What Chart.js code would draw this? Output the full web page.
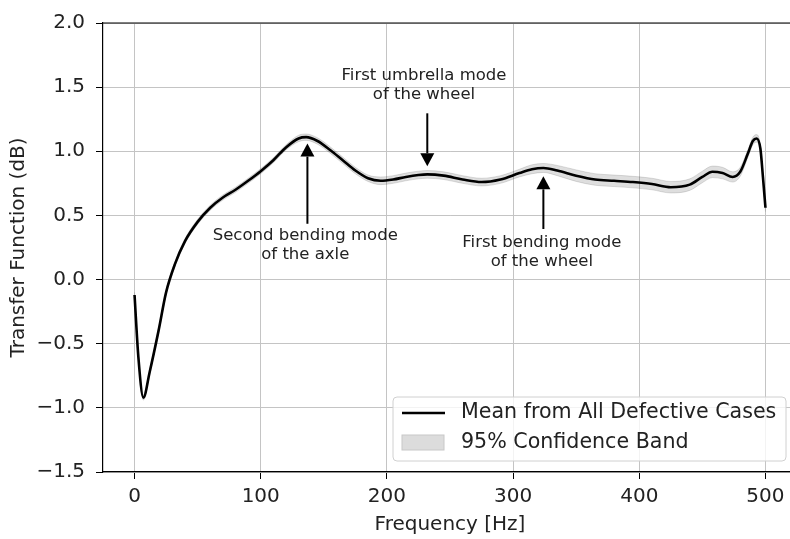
<!DOCTYPE html>
<html>
<head>
<meta charset="utf-8">
<script src="https://cdn.jsdelivr.net/npm/chart.js@4.4.1/dist/chart.umd.min.js"></script>
<style>
  html, body { margin: 0; padding: 0; background: #fff; overflow: hidden; }
  canvas { display: block; }
</style>
</head>
<body>
<canvas id="tfChart" width="800" height="539"></canvas>
<script>
// frequency points (Hz)
const freq = [0, 3, 7, 12, 19, 25, 32, 40, 50, 60, 70, 80, 90, 100, 110, 120, 130, 136, 145, 155,
  165, 175, 185, 195, 205, 215, 225, 232, 245, 260, 275, 290, 305, 315, 324, 335, 350, 365, 380,
  395, 410, 425, 440, 450, 458, 466, 474, 480, 486, 490, 493, 496, 498, 500];

// mean transfer function (dB)
const meanTF = [-0.12, -0.60, -0.92, -0.72, -0.40, -0.10, 0.12, 0.30, 0.45, 0.56, 0.64, 0.70, 0.77,
  0.845, 0.93, 1.03, 1.10, 1.11, 1.08, 1.01, 0.93, 0.85, 0.79, 0.77, 0.78, 0.80, 0.815, 0.82, 0.81,
  0.78, 0.76, 0.78, 0.83, 0.86, 0.87, 0.85, 0.81, 0.78, 0.77, 0.76, 0.745, 0.72, 0.74, 0.80, 0.84,
  0.83, 0.80, 0.84, 0.98, 1.08, 1.10, 1.02, 0.80, 0.56];

// 95% confidence band
const upperTF = [-0.10, -0.58, -0.90, -0.70, -0.38, -0.08, 0.14, 0.32, 0.47, 0.58, 0.66, 0.72, 0.79,
  0.865, 0.95, 1.05, 1.125, 1.135, 1.105, 1.035, 0.955, 0.875, 0.815, 0.80, 0.81, 0.83, 0.845, 0.85,
  0.84, 0.81, 0.79, 0.81, 0.86, 0.895, 0.905, 0.89, 0.855, 0.825, 0.815, 0.805, 0.79, 0.765, 0.785,
  0.845, 0.885, 0.875, 0.84, 0.875, 1.01, 1.11, 1.13, 1.05, 0.83, 0.59];
const lowerTF = [-0.14, -0.62, -0.94, -0.74, -0.42, -0.12, 0.10, 0.28, 0.43, 0.54, 0.62, 0.68, 0.75,
  0.825, 0.91, 1.01, 1.075, 1.085, 1.055, 0.985, 0.905, 0.825, 0.765, 0.74, 0.75, 0.77, 0.785, 0.79,
  0.78, 0.75, 0.73, 0.75, 0.80, 0.825, 0.835, 0.81, 0.765, 0.735, 0.725, 0.715, 0.70, 0.675, 0.695,
  0.755, 0.795, 0.785, 0.76, 0.805, 0.95, 1.05, 1.07, 0.99, 0.77, 0.53];

const xTicks = [0, 100, 200, 300, 400, 500];
const yTicks = [-1.5, -1.0, -0.5, 0.0, 0.5, 1.0, 1.5, 2.0];

// annotations: arrow x, arrow tip / tail y, text centre
const annoText = [['Second bending mode', 'of the axle'], ['First umbrella mode', 'of the wheel'], ['First bending mode', 'of the wheel']];
const annoX = [137, 232, 324];
const annoTip = [1.06, 0.883, 0.805];
const annoTail = [0.435, 1.296, 0.394];
const annoTextX = [135.3, 229.4, 322.8];
const annoTextY = [0.34, 1.589, 0.288];

const FONT = "'DejaVu Sans', sans-serif";

const toXY = (xs, ys) => xs.map((x, i) => ({ x: x, y: ys[i] }));

// top spine, annotations and the legend box
const extras = {
  id: 'extras',
  afterDraw(chart) {
    const ctx = chart.ctx;
    const a = chart.chartArea;
    const xs = chart.scales.x, ys = chart.scales.y;
    ctx.save();
    ctx.strokeStyle = '#000';
    ctx.lineWidth = 1.2;
    ctx.beginPath();
    ctx.moveTo(a.left, a.top);
    ctx.lineTo(a.right, a.top);
    ctx.lineTo(a.right, a.bottom);
    ctx.stroke();

    // annotations
    ctx.font = '16.5px ' + FONT;
    ctx.textAlign = 'center';
    ctx.textBaseline = 'middle';
    annoText.forEach((lines, i) => {
      const px = xs.getPixelForValue(annoX[i]);
      const tip = ys.getPixelForValue(annoTip[i]);
      const tail = ys.getPixelForValue(annoTail[i]);
      const dir = tip < tail ? -1 : 1;
      const head = 13;
      ctx.strokeStyle = '#000';
      ctx.lineWidth = 2;
      ctx.beginPath();
      ctx.moveTo(px, tail);
      ctx.lineTo(px, tip - dir * head);
      ctx.stroke();
      ctx.fillStyle = '#000';
      ctx.beginPath();
      ctx.moveTo(px, tip);
      ctx.lineTo(px - 7, tip - dir * head);
      ctx.lineTo(px + 7, tip - dir * head);
      ctx.closePath();
      ctx.fill();
      ctx.fillStyle = '#222';
      const tx = xs.getPixelForValue(annoTextX[i]);
      const ty = ys.getPixelForValue(annoTextY[i]);
      lines.forEach((s, j) => ctx.fillText(s, tx, ty + j * 19));
    });

    // legend
    const bw = 393, bh = 64;
    const bx = a.right - 11 - bw, by = a.bottom - 11 - bh;
    ctx.fillStyle = 'rgba(255,255,255,0.8)';
    ctx.strokeStyle = '#d0d0d0';
    ctx.lineWidth = 1;
    ctx.beginPath();
    ctx.roundRect(bx, by, bw, bh, 4);
    ctx.fill();
    ctx.stroke();
    ctx.strokeStyle = '#000';
    ctx.lineWidth = 2.5;
    ctx.beginPath();
    ctx.moveTo(bx + 9, by + 16);
    ctx.lineTo(bx + 52, by + 16);
    ctx.stroke();
    ctx.fillStyle = '#dcdcdc';
    ctx.strokeStyle = '#c8c8c8';
    ctx.lineWidth = 1;
    ctx.fillRect(bx + 9, by + 38, 42, 15);
    ctx.strokeRect(bx + 9, by + 38, 42, 15);
    ctx.fillStyle = '#222';
    ctx.font = '20.6px ' + FONT;
    ctx.textAlign = 'left';
    ctx.fillText('Mean from All Defective Cases', bx + 68, by + 16);
    ctx.fillText('95% Confidence Band', bx + 68, by + 46);
    ctx.restore();
  }
};

new Chart(document.getElementById('tfChart'), {
  type: 'line',
  data: {
    datasets: [
      {
        label: 'upper',
        data: toXY(freq, upperTF),
        borderColor: 'rgba(0,0,0,0.12)',
        borderWidth: 1,
        pointRadius: 0,
        cubicInterpolationMode: 'monotone',
        fill: false
      },
      {
        label: '95% Confidence Band',
        data: toXY(freq, lowerTF),
        borderColor: 'rgba(0,0,0,0.12)',
        backgroundColor: 'rgba(0,0,0,0.13)',
        borderWidth: 1,
        pointRadius: 0,
        cubicInterpolationMode: 'monotone',
        fill: '-1'
      },
      {
        label: 'Mean from All Defective Cases',
        data: toXY(freq, meanTF),
        borderColor: '#000',
        borderWidth: 2.6,
        pointRadius: 0,
        cubicInterpolationMode: 'monotone',
        fill: false
      }
    ]
  },
  options: {
    responsive: false,
    animation: false,
    devicePixelRatio: 1,
    layout: { padding: { top: 21, right: 3, left: 0, bottom: 0 } },
    plugins: {
      legend: { display: false },
      tooltip: { enabled: false }
    },
    scales: {
      x: {
        type: 'linear',
        min: -25,
        max: 525,
        afterBuildTicks: s => { s.ticks = xTicks.map(v => ({ value: v })); },
        afterFit: s => { s.height = 67; },
        ticks: {
          color: '#222',
          font: { family: FONT, size: 20 },
          padding: 6,
          maxRotation: 0
        },
        grid: { color: '#c4c4c4', lineWidth: 1, tickColor: '#000', tickLength: 7 },
        border: { color: '#000', width: 1.2 },
        title: {
          display: true,
          text: 'Frequency [Hz]',
          color: '#222',
          font: { family: FONT, size: 20 },
          padding: { top: 0, bottom: 2 }
        }
      },
      y: {
        min: -1.5,
        max: 2.0,
        afterBuildTicks: s => { s.ticks = yTicks.map(v => ({ value: v })); },
        afterFit: s => { s.width = 103; },
        ticks: {
          color: '#222',
          font: { family: FONT, size: 20 },
          padding: 11,
          callback: v => v.toFixed(1).replace('-', '\u2212')
        },
        grid: { color: '#c4c4c4', lineWidth: 1, tickColor: '#000', tickLength: 7 },
        border: { color: '#000', width: 1.2 },
        title: {
          display: true,
          text: 'Transfer Function (dB)',
          color: '#222',
          font: { family: FONT, size: 20 },
          padding: { top: 7, bottom: 0 }
        }
      }
    }
  },
  plugins: [extras]
});
</script>
</body>
</html>
